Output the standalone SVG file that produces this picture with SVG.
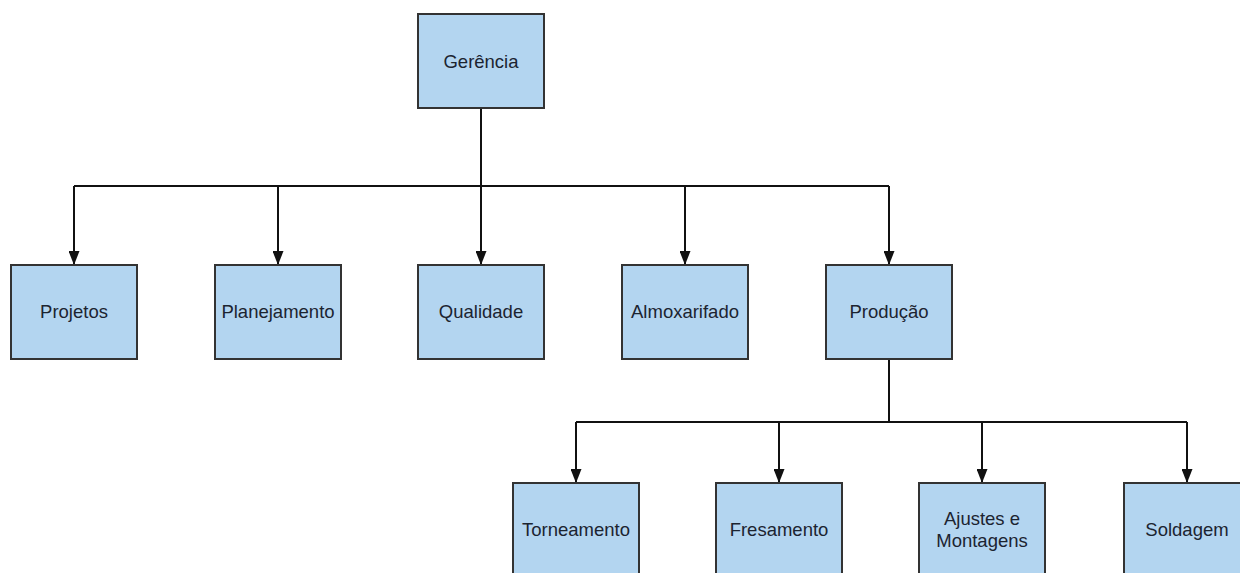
<svg xmlns="http://www.w3.org/2000/svg" width="1240" height="573" viewBox="0 0 1240 573">
<style>
.box{fill:#b3d5f0;stroke:#333;stroke-width:2}
.lbl{font-family:"Liberation Sans",Arial,sans-serif;font-size:18.5px;fill:#1c2430;text-anchor:middle;dominant-baseline:central}
.ln{fill:none;stroke:#111;stroke-width:2}
</style>
<defs>
<marker id="ah" markerWidth="14" markerHeight="11" refX="14" refY="5.5" orient="auto" markerUnits="userSpaceOnUse">
<path d="M0,0 L14,5.5 L0,11 Z" fill="#111"/>
</marker>
</defs>
<rect width="1240" height="573" fill="#fff"/>
<g id="connectors">
<path class="ln" d="M481,108 V186"/>
<path class="ln" d="M74,186 H889"/>
<path class="ln" d="M74,186 V265" marker-end="url(#ah)"/>
<path class="ln" d="M278,186 V265" marker-end="url(#ah)"/>
<path class="ln" d="M481,186 V265" marker-end="url(#ah)"/>
<path class="ln" d="M685,186 V265" marker-end="url(#ah)"/>
<path class="ln" d="M889,186 V265" marker-end="url(#ah)"/>
<path class="ln" d="M889,359 V422"/>
<path class="ln" d="M576,422 H1187"/>
<path class="ln" d="M576,422 V483" marker-end="url(#ah)"/>
<path class="ln" d="M779,422 V483" marker-end="url(#ah)"/>
<path class="ln" d="M982,422 V483" marker-end="url(#ah)"/>
<path class="ln" d="M1187,422 V483" marker-end="url(#ah)"/>
</g>
<g id="gerencia"><rect class="box" x="418" y="14" width="126" height="94"/><text class="lbl" x="481" y="61">Gerência</text></g>
<g id="projetos"><rect class="box" x="11" y="265" width="126" height="94"/><text class="lbl" x="74" y="311">Projetos</text></g>
<g id="planejamento"><rect class="box" x="215" y="265" width="126" height="94"/><text class="lbl" x="278" y="311">Planejamento</text></g>
<g id="qualidade"><rect class="box" x="418" y="265" width="126" height="94"/><text class="lbl" x="481" y="311">Qualidade</text></g>
<g id="almoxarifado"><rect class="box" x="622" y="265" width="126" height="94"/><text class="lbl" x="685" y="311">Almoxarifado</text></g>
<g id="producao"><rect class="box" x="826" y="265" width="126" height="94"/><text class="lbl" x="889" y="311">Produção</text></g>
<g id="torneamento"><rect class="box" x="513" y="483" width="126" height="94"/><text class="lbl" x="576" y="529">Torneamento</text></g>
<g id="fresamento"><rect class="box" x="716" y="483" width="126" height="94"/><text class="lbl" x="779" y="529">Fresamento</text></g>
<g id="ajustes"><rect class="box" x="919" y="483" width="126" height="94"/><text class="lbl" x="982" y="518">Ajustes e</text><text class="lbl" x="982" y="540">Montagens</text></g>
<g id="soldagem"><rect class="box" x="1124" y="483" width="126" height="94"/><text class="lbl" x="1187" y="529">Soldagem</text></g>
</svg>
